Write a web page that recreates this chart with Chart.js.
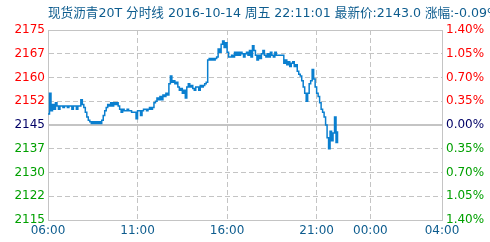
<!DOCTYPE html>
<html>
<head>
<meta charset="utf-8">
<script src="https://cdn.jsdelivr.net/npm/chart.js@4/dist/chart.umd.min.js"></script>
<style>
  html, body { margin: 0; padding: 0; background: #fff; }
  canvas { display: block; }
</style>
</head>
<body>
<canvas id="chart" width="490" height="242"></canvas>
<script>
// ---- data ----
const titleText = '现货沥青20T 分时线 2016-10-14 周五 22:11:01 最新价:2143.0 涨幅:-0.09%';
const basePrice = 2145;
const startTime = '06:00';
const intervalMin = 5;

const xTickLabels = ['06:00', '11:00', '16:00', '21:00', '00:00', '04:00'];
const priceTicks = [2175, 2167.5, 2160, 2152.5, 2145, 2137.5, 2130, 2122.5, 2115];
const priceTickLabels = ['2175', '2167', '2160', '2152', '2145', '2137', '2130', '2122', '2115'];
const pctTickLabels = ['1.40%', '1.05%', '0.70%', '0.35%', '0.00%', '0.35%', '0.70%', '1.05%', '1.40%'];

// one price every 5 minutes from 06:00
const prices = [
  2148.5, 2155, 2149.5, 2151.5, 2150, 2152, 2151, 2150, 2151, 2151, 2150.5, 2151,
  2151, 2150.5, 2151, 2151, 2150, 2151, 2151, 2150, 2151, 2151,
  2153, 2151.5, 2150.5, 2149, 2147.5, 2146.5, 2146, 2145.5, 2146, 2145.5, 2146, 2145.5, 2146, 2145.5,
  2146.5, 2148, 2149.5, 2150.5, 2151.5, 2151, 2152, 2151, 2152, 2151.5, 2152, 2151,
  2150, 2149, 2150, 2149.5, 2149.5, 2150, 2149.5, 2149.5, 2149, 2149, 2149, 2147,
  2149.5, 2149.5, 2148, 2149.5, 2150, 2150, 2149.5, 2150, 2150.5, 2150, 2150.5, 2152,
  2152.5, 2153.5, 2153, 2154, 2153, 2154.5, 2154, 2155, 2154.5, 2158, 2160.5, 2158.5,
  2159, 2158, 2158.5, 2157, 2156, 2156.5, 2155, 2156, 2153.5, 2157, 2158, 2157,
  2157.5, 2156.5, 2156, 2157, 2157, 2156, 2157.5, 2157, 2157.5, 2158, 2158.5, 2165.5,
  2166, 2165.5, 2166, 2165.5, 2166, 2166.5, 2169, 2168, 2170.5, 2171.5, 2169.5, 2171,
  2168, 2166.5, 2166.5, 2167, 2166.5, 2168, 2167, 2168, 2167, 2168, 2167.5, 2166.5,
  2167.5, 2168, 2167, 2168.5, 2166.5, 2170, 2168.5, 2167, 2165.5, 2167, 2166, 2167.5,
  2168.5, 2167, 2166.5, 2167.5, 2166.5, 2168, 2167, 2166.5, 2168, 2167, 2167, 2167,
  2167, 2167, 2164.5, 2165.5, 2164, 2165, 2163.5, 2164.5, 2165, 2163.5, 2164, 2162,
  2161, 2160.5, 2159, 2157, 2155, 2152.5, 2155, 2158, 2159, 2162.5, 2159.5, 2157,
  2155, 2154, 2152, 2150, 2149, 2147.5, 2145, 2141, 2137.5, 2143, 2140, 2142.5,
  2147.5, 2139.5, 2143
];

// ---- helpers ----
const FONT = '"DejaVu Sans", "Noto Sans CJK SC", sans-serif';
const BLUE_TEXT = '#0d5c8e';
const GRID = '#c4c4c4';

function toMinutes(hhmm) {
  const [h, m] = hhmm.split(':').map(Number);
  const [sh, sm] = startTime.split(':').map(Number);
  return ((h * 60 + m) - (sh * 60 + sm) + 1440) % 1440;
}
const xTicks = xTickLabels.map(toMinutes);
xTicks[xTicks.length - 1] = xTicks[xTicks.length - 1] || 1440;

const points = prices.map((p, i) => ({ x: i * intervalMin, y: p }));

function priceColor(v) {
  if (v > basePrice) return '#ff0000';
  if (v < basePrice) return '#00a000';
  return '#000066';
}

const framePlugin = {
  id: 'frame',
  beforeDatasetsDraw(chart) {
    const { ctx, chartArea: a, scales } = chart;
    const yBase = Math.round(scales.y.getPixelForValue(basePrice));
    ctx.save();
    ctx.strokeStyle = GRID;
    ctx.lineWidth = 1;
    ctx.beginPath();
    ctx.moveTo(a.left, a.top + 0.5);
    ctx.lineTo(a.right, a.top + 0.5);
    ctx.stroke();
    ctx.lineWidth = 2;
    ctx.beginPath();
    ctx.moveTo(a.left, yBase);
    ctx.lineTo(a.right, yBase);
    ctx.stroke();
    ctx.restore();
  },
  afterDraw(chart) {
    const { ctx } = chart;
    ctx.save();
    ctx.font = '12.6px ' + FONT;
    ctx.fillStyle = BLUE_TEXT;
    ctx.textBaseline = 'alphabetic';
    ctx.fillText(titleText, 48, 17);
    ctx.restore();
  },
};

new Chart(document.getElementById('chart'), {
  type: 'line',
  data: {
    datasets: [{
      data: points,
      borderColor: '#0a7fcf',
      borderWidth: 1.5,
      pointRadius: 0,
      stepped: true,
      fill: false,
    }],
  },
  options: {
    responsive: false,
    animation: false,
    layout: { padding: { top: 30, left: 0, right: 0, bottom: 0 } },
    plugins: {
      legend: { display: false },
      tooltip: { enabled: false },
    },
    scales: {
      x: {
        type: 'linear',
        min: xTicks[0],
        max: xTicks[xTicks.length - 1],
        afterBuildTicks: (s) => { s.ticks = xTicks.map((v) => ({ value: v })); },
        afterFit: (s) => { s.height = 22; },
        grid: { color: GRID, drawTicks: false },
        border: { display: true, color: GRID, dash: [5, 3] },
        ticks: {
          padding: 4,
          maxRotation: 0,
          autoSkip: false,
          color: BLUE_TEXT,
          font: { family: FONT, size: 12 },
          callback: (v) => xTickLabels[xTicks.indexOf(v)],
        },
      },
      y: {
        position: 'left',
        min: 2115,
        max: 2175,
        afterBuildTicks: (s) => { s.ticks = priceTicks.map((v) => ({ value: v })); },
        afterFit: (s) => { s.width = 48; },
        grid: { color: GRID, drawTicks: false },
        border: { display: true, color: GRID, dash: [5, 3] },
        ticks: {
          padding: 3,
          autoSkip: false,
          font: { family: FONT, size: 12 },
          color: (c) => priceColor(c.tick.value),
          callback: (v) => priceTickLabels[priceTicks.indexOf(v)],
        },
      },
      y2: {
        position: 'right',
        min: 2115,
        max: 2175,
        afterBuildTicks: (s) => { s.ticks = priceTicks.map((v) => ({ value: v })); },
        afterFit: (s) => { s.width = 48; },
        grid: { display: false, drawTicks: false },
        border: { display: true, color: GRID },
        ticks: {
          padding: 4,
          autoSkip: false,
          font: { family: FONT, size: 12 },
          color: (c) => priceColor(c.tick.value),
          callback: (v) => pctTickLabels[priceTicks.indexOf(v)],
        },
      },
    },
  },
  plugins: [framePlugin],
});
</script>
</body>
</html>
